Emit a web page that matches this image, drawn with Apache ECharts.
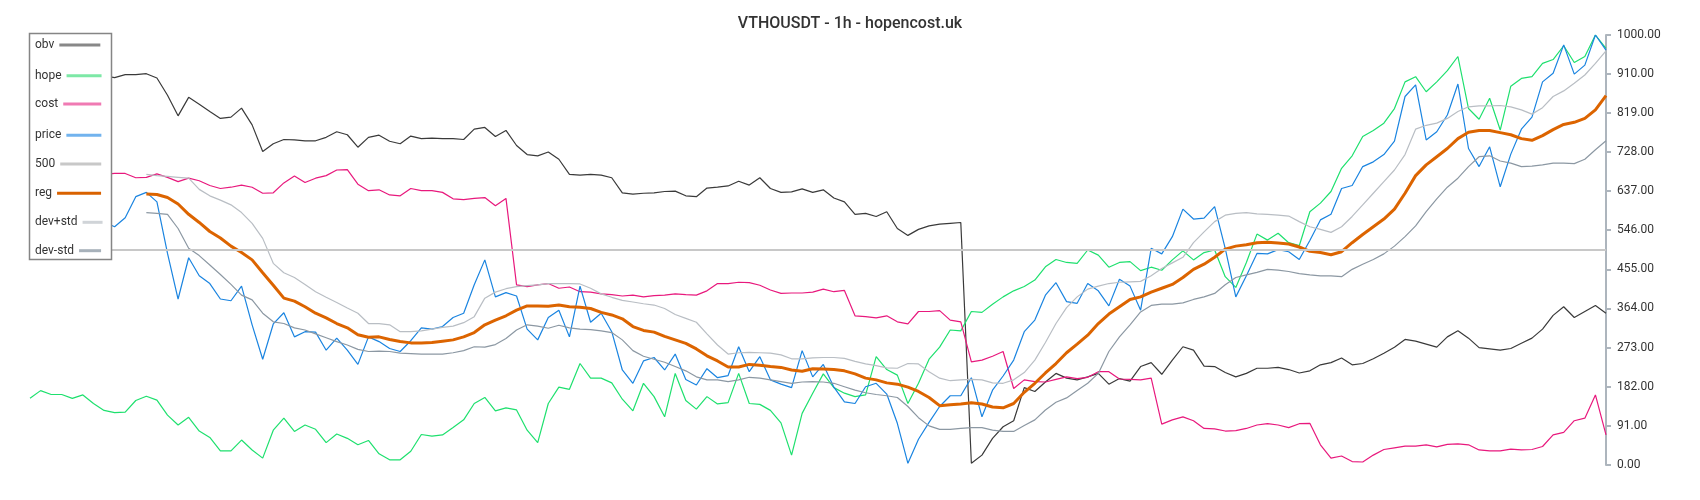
<!DOCTYPE html>
<html><head><meta charset="utf-8">
<script src="https://cdn.jsdelivr.net/npm/echarts@6/dist/echarts.min.js"></script>
<style>html,body{margin:0;padding:0;background:#fff}#c{width:1700px;height:500px}</style>
</head><body><div id="c"></div>
<script>
// hourly samples (every 2h), normalised 0..1000
const categories = Array.from({length: 150}, (_, i) => 'T' + (i * 2));

const obv = [905,910,900,915,905,912,900,905,
901,908,908,910,900,860,812,855,839,822,806,809,830,791,729,747,757,
756,754,754,762,775,768,739,762,767,753,747,765,759,760,759,759,757,781,785,764,778,743,722,719,
728,711,676,674,676,674,668,633,630,632,633,636,637,626,624,644,646,649,660,651,668,643,634,635,
642,634,640,621,612,583,585,578,589,550,534,548,556,560,562,564,4,23,62,89,103,180,171,193,
213,202,198,205,213,188,201,195,229,238,211,244,275,267,230,229,215,205,213,225,225,227,222,214,
219,233,238,249,233,236,247,260,274,292,288,281,274,298,312,295,273,270,267,271,283,295,316,348,
368,343,357,371,353];

const hope = [155,173,164,164,155,163,143,127,122,123,150,160,151,116,93,111,79,64,33,33,58,35,16,81,109,
78,93,83,52,72,62,47,57,26,12,12,32,71,67,70,87,105,143,157,126,133,128,81,52,
143,181,176,236,202,202,191,153,126,190,159,112,213,150,130,159,142,145,213,143,141,127,98,23,
120,167,212,180,167,159,163,252,222,209,143,190,246,274,314,312,357,355,374,391,405,415,430,461,
478,471,469,500,488,460,471,473,452,460,453,477,498,477,494,500,438,413,471,537,523,539,517,510,
589,609,636,690,719,764,778,795,829,891,903,868,891,917,950,829,804,853,779,881,899,903,934,943,
975,936,950,1000,969];

const cost = [675,676,672,678,675,677,673,676,
678,678,668,669,677,669,659,667,661,650,643,646,651,646,632,633,656,
672,657,667,673,686,687,653,638,640,628,626,643,638,638,634,619,617,620,622,603,620,419,415,419,
422,411,414,403,402,398,396,393,395,391,394,395,398,396,395,405,422,422,425,424,418,407,399,400,
400,402,409,403,406,347,345,342,347,333,328,357,357,359,337,333,240,244,253,264,178,198,194,193,
199,205,201,204,217,217,200,199,198,202,95,105,112,103,85,84,79,80,85,93,96,93,87,96,
97,47,16,21,8,7,23,36,40,44,44,47,42,48,49,47,35,33,33,37,35,36,43,70,
76,103,109,163,70];

const price = [580,590,570,600,585,560,575,565,
554,575,624,634,612,492,386,482,440,422,386,382,416,326,246,328,354,
298,310,309,267,295,267,234,298,287,271,264,289,319,316,322,343,353,419,477,391,401,393,316,291,
343,360,298,416,332,353,310,221,190,242,250,221,258,199,186,224,203,208,275,217,252,198,188,180,
266,205,234,181,147,143,182,190,165,97,4,60,99,136,161,161,203,112,174,207,244,310,337,395,
424,380,376,422,405,370,432,416,360,504,491,531,595,572,574,601,504,391,440,492,491,501,496,478,
522,570,583,643,650,694,705,722,753,857,884,756,775,814,886,736,694,740,647,723,781,809,891,911,
977,909,930,1000,965];

const level500 = 500;

const reg = [null,null,null,null,null,null,null,null,null,null,null,
630,629,622,607,583,564,543,528,509,494,477,447,418,388,
381,368,353,342,329,319,303,297,298,292,287,284,284,285,288,291,298,308,326,337,347,360,370,370,
369,372,368,367,364,355,349,340,322,313,309,299,291,283,270,254,242,228,228,234,232,229,227,221,
218,224,223,222,219,212,202,198,191,188,181,171,157,138,140,142,145,142,135,133,143,169,190,214,
236,261,281,302,329,351,368,385,391,402,411,420,436,455,467,483,502,509,512,517,518,516,514,507,
497,494,489,496,517,536,554,572,595,632,673,698,717,736,759,774,778,778,773,768,759,755,766,780,
792,797,806,826,859];

const devPlus = [null,null,null,null,null,null,null,null,null,null,null,
676,673,671,669,667,641,626,616,605,587,562,527,469,447,
436,420,403,390,378,365,353,329,329,326,310,310,312,316,320,323,331,345,388,402,410,415,417,419,
422,422,422,421,411,398,390,383,379,375,372,364,350,341,332,305,279,258,261,262,261,260,256,247,
247,249,250,250,248,241,235,231,226,225,236,235,217,202,196,198,199,198,191,190,198,215,244,285,
329,366,391,409,416,422,425,426,427,440,457,470,483,517,542,566,581,585,587,584,583,581,579,566,
554,548,541,554,578,605,632,659,686,722,781,790,795,806,822,833,835,835,836,833,826,816,831,857,
870,888,907,934,963];

const devMinus = [null,null,null,null,null,null,null,null,null,null,null,
587,585,583,550,504,487,465,443,420,395,384,353,333,329,
319,314,305,296,287,279,269,264,265,264,260,259,258,258,258,261,266,275,274,280,294,314,326,323,
318,325,319,316,315,312,308,291,266,253,246,239,229,219,205,198,198,194,198,204,202,198,194,190,
193,194,193,190,182,174,168,164,161,157,136,110,91,83,83,85,87,87,81,78,78,92,105,128,
146,156,173,190,213,264,298,326,356,371,374,374,377,385,391,399,419,436,442,448,455,453,450,445,
442,440,440,438,455,467,478,491,509,531,556,589,619,646,667,694,717,719,707,702,694,695,698,702,
702,701,711,733,754];

const yTicks = {min: 0, max: 1000, step: 91};

const seriesNames = ['obv', 'hope', 'cost', 'price', '500', 'reg', 'dev+std', 'dev-std'];
const lineColors = ['#3a3a3a', '#1ee06e', '#e8197d', '#1a84e0', '#c8c8c8', '#dc6400', '#b9bec4', '#8c98a3'];
const iconColors = ['#888888', '#7de8a6', '#f07ab3', '#72b3ee', '#c8c8c8', '#d96200', '#d0d4d8', '#a7b1ba'];
const lineWidths = [1.2, 1.2, 1.2, 1.2, 2, 3, 1.2, 1.2];
const iconWidths = [41, 35, 38, 35, 41, 44, 20, 22];
const iconCenters = [45, 75.7, 104, 135.3, 164, 193.3, 222.3, 250.7];

const chart = echarts.init(document.getElementById('c'), null, {renderer: 'canvas'});

const dataMap = {obv: obv, hope: hope, cost: cost, price: price, reg: reg, 'dev+std': devPlus, 'dev-std': devMinus};

const series = seriesNames.map((n, k) => {
  const s = {
    type: 'line', name: n, data: dataMap[n] || [],
    symbol: 'none', showSymbol: false, color: lineColors[k],
    lineStyle: {color: lineColors[k], width: lineWidths[k]},
    emphasis: {disabled: true}, silent: true, animation: false,
    z: n === 'reg' ? 3 : 2
  };
  if (n === '500') {
    s.markLine = {silent: true, symbol: 'none', label: {show: false},
      lineStyle: {color: lineColors[k], width: 2, type: 'solid'},
      data: [{yAxis: level500}], animation: false};
  }
  return s;
});

const legends = seriesNames.map((n, k) => ({
  data: [{name: n, itemStyle: {color: iconColors[k], borderWidth: 0}}],
  orient: 'vertical', left: 35, top: iconCenters[k] - 7,
  align: 'right', icon: 'rect', itemWidth: iconWidths[k], itemHeight: 3,
  itemGap: 0, padding: 0, z: 20, selectedMode: false,
  textStyle: {fontSize: 12, color: '#333', fontFamily: 'Roboto', lineHeight: 14}
}));

chart.setOption({
  backgroundColor: '#ffffff',
  animation: false,
  title: {text: 'VTHOUSDT - 1h - hopencost.uk', left: 'center', top: 11,
    textStyle: {fontSize: 16, fontWeight: 500, color: '#333', fontFamily: 'Roboto'}},
  grid: {left: 30, right: 94, top: 35, bottom: 35, containLabel: false},
  legend: legends,
  graphic: [{type: 'rect', z: 10, shape: {x: 29.5, y: 33.5, width: 82, height: 226},
    style: {fill: '#ffffff', stroke: '#858585', lineWidth: 1.5}}],
  xAxis: {type: 'category', data: categories, boundaryGap: false, show: false},
  yAxis: {type: 'value', position: 'right', min: yTicks.min, max: yTicks.max, interval: yTicks.step,
    splitLine: {show: false},
    axisLine: {show: true, lineStyle: {color: '#adb5bd', width: 2}},
    axisTick: {show: true, length: 5, lineStyle: {color: '#adb5bd', width: 2}},
    axisLabel: {color: '#333', fontSize: 12, fontFamily: 'Roboto', margin: 11,
      formatter: v => Number(v).toFixed(2)}},
  series: series
});
</script></body></html>
